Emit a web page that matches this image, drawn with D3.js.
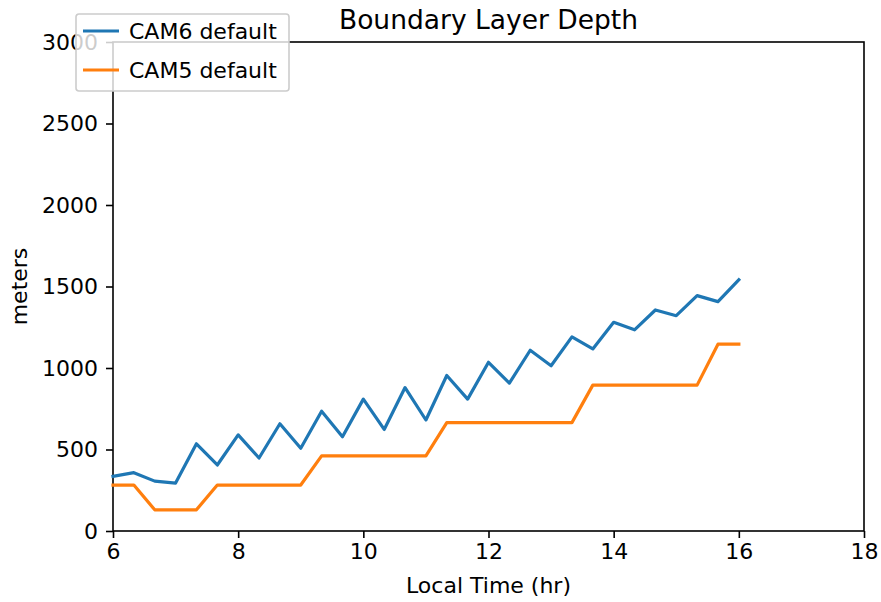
<!DOCTYPE html>
<html>
<head>
<meta charset="utf-8">
<script src="https://cdn.jsdelivr.net/npm/d3@7"></script>
<style>
  body { margin: 0; background: #fff; }
  svg text { font-family: "DejaVu Sans", sans-serif; fill: #000; }
</style>
</head>
<body>
<div id="chart"></div>
<script>
// local time, every 20 minutes from 6 to 16 hr
const hours = d3.range(31).map(i => 6 + i / 3);

const cam6 = [335, 358, 306, 294, 535, 405, 590, 448, 658, 508, 735, 578, 809, 623, 880, 681,
  954, 809, 1035, 907, 1109, 1014, 1191, 1117, 1280, 1234, 1356, 1321, 1444, 1407, 1541];
const cam5 = [282, 282, 130, 130, 130, 282, 282, 282, 282, 282, 461, 461, 461, 461, 461, 461,
  665, 665, 665, 665, 665, 665, 665, 895, 895, 895, 895, 895, 895, 1146, 1146];

const seriesNames = ['CAM6 default', 'CAM5 default'];
const seriesColors = ['#1f77b4', '#ff7f0e'];
const xTicks = [6, 8, 10, 12, 14, 16, 18];
const yTicks = [0, 500, 1000, 1500, 2000, 2500, 3000];

const width = 881, height = 602;
const margin = { top: 42, right: 17, bottom: 71, left: 113 };
const plotW = width - margin.left - margin.right;
const plotH = height - margin.top - margin.bottom;
const fontSize = '22px';

const svg = d3.select('#chart').append('svg')
  .attr('width', width)
  .attr('height', height);

const x = d3.scaleLinear().domain([6, 18]).range([margin.left, margin.left + plotW]);
const y = d3.scaleLinear().domain([0, 3000]).range([margin.top + plotH, margin.top]);

// axes
const xAxis = svg.append('g')
  .attr('transform', `translate(0,${margin.top + plotH})`)
  .call(d3.axisBottom(x).tickValues(xTicks).tickFormat(d3.format('d')).tickSize(7).tickPadding(5));
const yAxis = svg.append('g')
  .attr('transform', `translate(${margin.left},0)`)
  .call(d3.axisLeft(y).tickValues(yTicks).tickFormat(d3.format('d')).tickSize(7).tickPadding(8));

[xAxis, yAxis].forEach(a => {
  a.selectAll('text').style('font-size', fontSize).style('font-family', '"DejaVu Sans", sans-serif');
  a.selectAll('line').attr('stroke', '#000').attr('stroke-width', 1.6);
  a.select('.domain').remove();
});

// frame
svg.append('rect')
  .attr('x', margin.left).attr('y', margin.top)
  .attr('width', plotW).attr('height', plotH)
  .attr('fill', 'none').attr('stroke', '#000').attr('stroke-width', 1.6);

// lines
const line = d3.line().x((d, i) => x(hours[i])).y(d => y(d));
[cam6, cam5].forEach((s, k) => {
  svg.append('path')
    .datum(s)
    .attr('fill', 'none')
    .attr('stroke', seriesColors[k])
    .attr('stroke-width', 3.2)
    .attr('stroke-linejoin', 'round')
    .attr('stroke-linecap', 'square')
    .attr('d', line);
});

// title + axis labels
svg.append('text')
  .attr('x', margin.left + plotW / 2).attr('y', 29)
  .attr('text-anchor', 'middle')
  .style('font-size', '26.5px')
  .text('Boundary Layer Depth');

svg.append('text')
  .attr('x', margin.left + plotW / 2).attr('y', 593)
  .attr('text-anchor', 'middle')
  .style('font-size', fontSize)
  .text('Local Time (hr)');

svg.append('text')
  .attr('transform', `translate(27,${margin.top + plotH / 2}) rotate(-90)`)
  .attr('text-anchor', 'middle')
  .style('font-size', fontSize)
  .text('meters');

// legend
const legend = svg.append('g').attr('transform', 'translate(76,14)');
legend.append('rect')
  .attr('width', 213).attr('height', 77).attr('rx', 3)
  .attr('fill', 'rgba(255,255,255,0.8)')
  .attr('stroke', '#cccccc').attr('stroke-width', 1.6);
seriesNames.forEach((name, k) => {
  const ly = 17 + k * 39;
  legend.append('line')
    .attr('x1', 7).attr('x2', 43).attr('y1', ly).attr('y2', ly)
    .attr('stroke', seriesColors[k]).attr('stroke-width', 3.2);
  legend.append('text')
    .attr('x', 53).attr('y', ly).attr('dy', '0.35em')
    .style('font-size', fontSize)
    .text(name);
});
</script>
</body>
</html>
